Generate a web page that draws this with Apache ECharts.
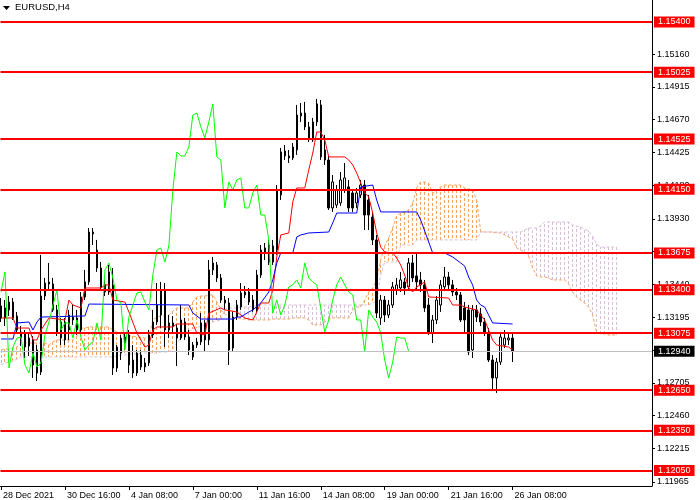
<!DOCTYPE html>
<html><head><meta charset="utf-8">
<script src="https://cdn.jsdelivr.net/npm/echarts@6/dist/echarts.min.js"></script>
<style>html,body{margin:0;padding:0;background:#fff}#c{width:700px;height:500px}</style>
</head><body><div id="c"></div>
<script>
// ---- data ----
const timeTicks = [0,16,32,48,64,80,96,112,128];
const timeLabels = ['28 Dec 2021','30 Dec 16:00','4 Jan 08:00','7 Jan 00:00','11 Jan 16:00','14 Jan 08:00','19 Jan 00:00','21 Jan 16:00','26 Jan 08:00'];
const priceTicks = [1.11965,1.12215,1.12460,1.12705,1.12950,1.13195,1.13440,1.13685,1.13930,1.14180,1.14425,1.14670,1.14915,1.15160];
const levels = [1.15400,1.15025,1.14525,1.14150,1.13675,1.13400,1.13075,1.12650,1.12350,1.12050];
// [open, close, low, high]
const ohlc = [
[1.13279,1.13189,1.13159,1.13338],[1.13189,1.13264,1.13129,1.13323],[1.13249,1.13308,1.13204,1.13353],[1.13308,1.13189,1.13174,1.13338],
[1.13204,1.13099,1.13069,1.13234],[1.13039,1.13084,1.12980,1.13129],[1.13069,1.12972,1.12890,1.13099],[1.12980,1.13039,1.12905,1.13077],
[1.13025,1.12838,1.12741,1.13054],[1.12950,1.12778,1.12718,1.12987],[1.12786,1.13353,1.12763,1.13660],[1.13353,1.13450,1.13323,1.13488],
[1.13443,1.13458,1.13398,1.13600],[1.13443,1.13249,1.13234,1.13488],[1.13249,1.13077,1.13054,1.13286],[1.13039,1.13159,1.12987,1.13189],
[1.13159,1.13025,1.12987,1.13189],[1.13099,1.13211,1.13025,1.13249],[1.13174,1.13196,1.13137,1.13286],[1.13189,1.13099,1.13062,1.13249],
[1.13099,1.13346,1.13077,1.13383],[1.13346,1.13458,1.13323,1.13548],[1.13458,1.13831,1.13436,1.13861],[1.13831,1.13816,1.13734,1.13861],
[1.13697,1.13562,1.13533,1.13772],[1.13562,1.13421,1.13398,1.13607],[1.13436,1.13383,1.13353,1.13473],[1.13383,1.13533,1.13361,1.13585],
[1.13436,1.12815,1.12763,1.13562],[1.12815,1.12972,1.12786,1.12987],[1.12927,1.13039,1.12875,1.13062],[1.13002,1.13047,1.12950,1.13077],
[1.13062,1.12838,1.12778,1.13099],[1.12875,1.12778,1.12741,1.12987],[1.12778,1.12927,1.12756,1.12950],[1.12912,1.12823,1.12800,1.12950],
[1.12823,1.12853,1.12786,1.12890],[1.12853,1.13062,1.12830,1.13099],[1.13062,1.13159,1.13039,1.13249],[1.13159,1.13286,1.13137,1.13450],
[1.13211,1.13398,1.13114,1.13458],[1.13398,1.13099,1.12972,1.13450],[1.13099,1.13152,1.13039,1.13211],[1.13129,1.13152,1.13084,1.13204],
[1.13114,1.13039,1.12830,1.13137],[1.13039,1.13174,1.13025,1.13286],[1.13159,1.13047,1.13025,1.13189],[1.13047,1.12950,1.12912,1.13099],
[1.12897,1.12987,1.12875,1.13010],[1.12987,1.13010,1.12965,1.13039],[1.13010,1.13152,1.12987,1.13226],[1.13152,1.13025,1.12935,1.13174],
[1.13025,1.13548,1.12987,1.13622],[1.13548,1.13600,1.13510,1.13645],[1.13585,1.13488,1.13458,1.13607],[1.13488,1.13323,1.13301,1.13518],
[1.13323,1.13301,1.13249,1.13353],[1.13301,1.12950,1.12838,1.13338],[1.12965,1.13196,1.12935,1.13234],[1.13196,1.13286,1.13174,1.13323],
[1.13271,1.13376,1.13249,1.13450],[1.13361,1.13383,1.13338,1.13428],[1.13383,1.13308,1.13286,1.13413],[1.13323,1.13249,1.13234,1.13361],
[1.13249,1.13510,1.13234,1.13548],[1.13510,1.13697,1.13488,1.13734],[1.13682,1.13712,1.13622,1.13749],[1.13734,1.13607,1.13585,1.13772],
[1.13607,1.13727,1.13585,1.13772],[1.13697,1.14145,1.13660,1.14182],[1.14108,1.14429,1.14070,1.14459],[1.14436,1.14399,1.14369,1.14481],
[1.14384,1.14399,1.14347,1.14444],[1.14384,1.14466,1.14369,1.14496],[1.14444,1.14705,1.14407,1.14780],[1.14698,1.14720,1.14653,1.14795],
[1.14720,1.14616,1.14593,1.14803],[1.14616,1.14534,1.14504,1.14653],[1.14519,1.14653,1.14504,1.14683],[1.14653,1.14788,1.14623,1.14825],
[1.14780,1.14392,1.14369,1.14817],[1.14444,1.14369,1.14332,1.14556],[1.14369,1.14011,1.13996,1.14407],[1.14011,1.14205,1.13981,1.14257],
[1.14033,1.14145,1.14011,1.14182],[1.14048,1.14220,1.14026,1.14280],[1.14145,1.14235,1.14123,1.14347],[1.14168,1.14011,1.13981,1.14220],
[1.14123,1.14011,1.13981,1.14145],[1.14048,1.14123,1.14011,1.14160],[1.14108,1.14182,1.14085,1.14220],[1.14182,1.13958,1.13846,1.14220],
[1.14070,1.13958,1.13846,1.14108],[1.13943,1.13772,1.13734,1.13981],[1.13772,1.13226,1.13189,1.13809],[1.13189,1.13323,1.13137,1.13361],
[1.13323,1.13211,1.13159,1.13353],[1.13211,1.13286,1.13189,1.13323],[1.13286,1.13421,1.13264,1.13458],[1.13398,1.13436,1.13361,1.13488],
[1.13413,1.13473,1.13383,1.13533],[1.13458,1.13413,1.13361,1.13488],[1.13421,1.13600,1.13398,1.13637],[1.13600,1.13488,1.13458,1.13660],
[1.13503,1.13458,1.13398,1.13675],[1.13473,1.13436,1.13383,1.13533],[1.13436,1.13264,1.13234,1.13473],[1.13286,1.13084,1.13062,1.13338],
[1.13077,1.13174,1.13002,1.13211],[1.13174,1.13323,1.13144,1.13353],[1.13286,1.13436,1.13234,1.13473],[1.13421,1.13495,1.13398,1.13570],
[1.13495,1.13436,1.13398,1.13533],[1.13436,1.13383,1.13353,1.13473],[1.13383,1.13361,1.13323,1.13413],[1.13361,1.13174,1.13159,1.13383],
[1.13264,1.13174,1.13084,1.13308],[1.13249,1.12935,1.12912,1.13286],[1.12950,1.13249,1.12890,1.13286],[1.13249,1.13196,1.13159,1.13286],
[1.13219,1.13159,1.13129,1.13264],[1.13159,1.13077,1.13054,1.13189],[1.13077,1.12875,1.12860,1.13114],[1.12875,1.12741,1.12644,1.12912],
[1.12741,1.12860,1.12629,1.12890],[1.12860,1.13047,1.12838,1.13077],[1.12987,1.13039,1.12965,1.13099],[1.13025,1.13039,1.12987,1.13084],
[1.13039,1.12940,1.12860,1.13077]
];
// Tenkan-sen vertices [bar, price]
const tenkan = [[0,1.13189],[3,1.13189],[4,1.13114],[7,1.13114],[8,1.13025],[9,1.13025],[10,1.13099],[12,1.13189],[16,1.13174],[17,1.13323],[18,1.13286],[20,1.13264],[21,1.13413],[25,1.13413],[26,1.13436],[27,1.13436],[28,1.13323],[31,1.13308],[32,1.13234],[34,1.13077],[36,1.12972],[37,1.12987],[38,1.13099],[39,1.13122],[43,1.13122],[44,1.13144],[48,1.13144],[49,1.13077],[51,1.13062],[52,1.13226],[55,1.13264],[56,1.13249],[59,1.13234],[61,1.13189],[63,1.13174],[64,1.13234],[65,1.13301],[67,1.13301],[68,1.13398],[69,1.13645],[70,1.13809],[72,1.13824],[73,1.14055],[74,1.14160],[76,1.14160],[77,1.14295],[78,1.14421],[79,1.14578],[80,1.14578],[81,1.14519],[82,1.14392],[86,1.14392],[87,1.14369],[88,1.14332],[89,1.14272],[90,1.14197],[91,1.14123],[92,1.14093],[93,1.13973],[94,1.13824],[95,1.13719],[96,1.13682],[98,1.13675],[99,1.13637],[100,1.13585],[101,1.13510],[102,1.13413],[103,1.13383],[104,1.13421],[106,1.13458],[107,1.13346],[112,1.13338],[113,1.13286],[115,1.13286],[116,1.13271],[117,1.13264],[119,1.13249],[120,1.13211],[121,1.13174],[122,1.13099],[123,1.13025],[124,1.12987],[127,1.12972],[128,1.12950]];
// Kijun-sen vertices [bar, price]
const kijun = [[0,1.13032],[3,1.13032],[4,1.13152],[7,1.13159],[8,1.13099],[9,1.13159],[10,1.13196],[21,1.13204],[22,1.13293],[47,1.13286],[48,1.13226],[50,1.13181],[58,1.13181],[59,1.13196],[60,1.13196],[62,1.13234],[63,1.13249],[65,1.13301],[67,1.13383],[68,1.13473],[69,1.13600],[70,1.13675],[73,1.13675],[74,1.13794],[75,1.13809],[77,1.13824],[82,1.13831],[83,1.13899],[84,1.13973],[89,1.13973],[90,1.14168],[93,1.14182],[94,1.14070],[95,1.13981],[104,1.13981],[105,1.13921],[108,1.13675],[111,1.13675],[113,1.13645],[115,1.13600],[116,1.13577],[117,1.13495],[118,1.13436],[119,1.13323],[120,1.13286],[121,1.13271],[122,1.13211],[123,1.13152],[128,1.13144]];
// Senkou span A / B, one value per bar (bars 0..154)
const spanA = [1.12950,1.12957,1.12957,1.12965,1.12972,1.13002,1.13002,1.13002,1.13002,1.13002,1.13002,1.13002,1.12987,1.13010,1.13025,1.13025,1.13025,1.13025,1.13025,1.13054,
1.13114,1.13114,1.13122,1.13122,1.13122,1.13122,1.13122,1.13122,1.13099,1.13084,1.13069,1.13062,1.13054,1.13054,1.13047,1.13047,1.13039,1.13047,1.13174,1.13196,
1.13204,1.13204,1.13211,1.13241,1.13264,1.13264,1.13264,1.13264,1.13308,1.13346,1.13353,1.13353,1.13361,1.13361,1.13308,1.13249,1.13219,1.13204,1.13189,1.13189,
1.13181,1.13181,1.13174,1.13174,1.13174,1.13174,1.13174,1.13174,1.13181,1.13181,1.13181,1.13181,1.13181,1.13189,1.13189,1.13189,1.13189,1.13174,1.13137,1.13137,
1.13137,1.13159,1.13181,1.13189,1.13189,1.13189,1.13189,1.13189,1.13249,1.13271,1.13271,1.13323,1.13383,1.13413,1.13473,1.13622,1.13727,1.13787,1.13861,1.13951,
1.13973,1.13981,1.13996,1.14048,1.14160,1.14205,1.14205,1.14197,1.14123,1.14138,1.14168,1.14182,1.14182,1.14182,1.14182,1.14182,1.14160,1.14153,1.14145,1.14070,
1.13839,1.13831,1.13831,1.13831,1.13824,1.13824,1.13809,1.13794,1.13779,1.13712,1.13697,1.13682,1.13652,1.13562,1.13503,1.13495,1.13495,1.13488,1.13473,1.13473,
1.13473,1.13473,1.13443,1.13383,1.13346,1.13323,1.13301,1.13271,1.13211,1.13084,1.13069,1.13069,1.13062,1.13062,1.13062];
const spanB = [1.12838,1.12853,1.12860,1.12868,1.12882,1.12898,1.12898,1.12898,1.12898,1.12898,1.12898,1.12898,1.12898,1.12898,1.12898,1.12898,1.12898,1.12898,1.12898,1.12898,
1.12898,1.12898,1.12898,1.12898,1.12898,1.12898,1.12898,1.12898,1.12898,1.12905,1.12912,1.12912,1.12920,1.12920,1.12920,1.12927,1.12927,1.12927,1.12927,1.12927,
1.12935,1.12935,1.12935,1.12957,1.13002,1.13039,1.13084,1.13092,1.13107,1.13114,1.13129,1.13137,1.13144,1.13159,1.13167,1.13174,1.13256,1.13264,1.13264,1.13264,
1.13271,1.13271,1.13271,1.13279,1.13279,1.13286,1.13286,1.13286,1.13286,1.13286,1.13286,1.13286,1.13286,1.13286,1.13286,1.13286,1.13286,1.13286,1.13286,1.13286,
1.13286,1.13286,1.13286,1.13286,1.13286,1.13286,1.13286,1.13286,1.13286,1.13286,1.13286,1.13286,1.13286,1.13301,1.13316,1.13510,1.13607,1.13607,1.13607,1.13607,
1.13734,1.13734,1.13734,1.13734,1.13772,1.13772,1.13772,1.13772,1.13772,1.13772,1.13772,1.13772,1.13772,1.13772,1.13772,1.13772,1.13772,1.13772,1.13772,1.13772,
1.13831,1.13831,1.13831,1.13831,1.13831,1.13831,1.13831,1.13831,1.13831,1.13831,1.13831,1.13846,1.13861,1.13861,1.13861,1.13876,1.13906,1.13906,1.13906,1.13906,
1.13906,1.13906,1.13906,1.13884,1.13876,1.13869,1.13854,1.13839,1.13802,1.13742,1.13719,1.13719,1.13719,1.13719,1.13719];
const chikouShift = 26;

// ---- chart ----
const FONT = 'Liberation Sans, Arial, sans-serif';
const closes = ohlc.map(d => d[1]);
const lastClose = closes[closes.length - 1];
const candleData = ohlc.map((d, i) => [i, d[0], d[1], d[2], d[3]]);
const chikouData = closes.slice(chikouShift).map((c, k) => [k, c]);
const cloudData = spanA.map((a, i) => [i, a, spanB[i]]);
const spanAData = spanA.map((a, i) => [i, a]);
const spanBData = spanB.map((b, i) => [i, b]);

const chart = echarts.init(document.getElementById('c'), null, {renderer: 'canvas'});
const lineBase = {type: 'line', symbol: 'none', showSymbol: false, animation: false, silent: true, clip: true};

chart.setOption({
  backgroundColor: '#ffffff',
  animation: false,
  textStyle: {fontFamily: FONT},
  grid: {left: 0, right: 48, top: 0, bottom: 14, containLabel: false},
  graphic: [
    {type: 'polygon', shape: {points: [[3, 6], [10, 6], [6.5, 10]]}, style: {fill: '#000'}},
    {type: 'text', left: 15, top: 2, style: {text: 'EURUSD,H4', font: '9.5px ' + FONT, fill: '#000'}}
  ],
  xAxis: {
    type: 'value', min: -0.125, max: 162.875,
    splitLine: {show: false},
    axisLine: {onZero: false, lineStyle: {color: '#000', width: 1}},
    axisTick: {show: true, length: 4, lineStyle: {color: '#000'}, customValues: timeTicks},
    axisLabel: {
      customValues: timeTicks, align: 'left', margin: 5, padding: [0, 0, 0, 2],
      fontSize: 9, color: '#000', fontFamily: FONT,
      formatter: v => timeLabels[timeTicks.indexOf(v)] || ''
    }
  },
  yAxis: {
    type: 'value', position: 'right', min: 1.11934, max: 1.15564, scale: true,
    splitLine: {show: false},
    axisLine: {show: true, onZero: false, lineStyle: {color: '#000', width: 1}},
    axisTick: {show: true, length: 3, lineStyle: {color: '#000'}, customValues: priceTicks},
    axisLabel: {customValues: priceTicks, margin: 5, fontSize: 9, color: '#000', fontFamily: FONT,
      formatter: v => v.toFixed(5)}
  },
  series: [
    {
      type: 'custom', z: 1, silent: true, animation: false, clip: true,
      data: cloudData, encode: {x: 0, y: [1, 2]},
      renderItem: (params, api) => {
        const i = api.value(0), a = api.value(1), b = api.value(2);
        const p1 = api.coord([i, a]), p2 = api.coord([i, b]);
        const x = Math.floor(p1[0]) + 0.5;
        return {type: 'line', shape: {x1: x, y1: p1[1], x2: x, y2: p2[1]},
          style: {stroke: a >= b ? '#f4a460' : '#d8bfd8', lineWidth: 1, lineDash: [3, 2]}};
      }
    },
    Object.assign({}, lineBase, {z: 1, data: spanAData, lineStyle: {color: '#f4a460', width: 1, type: [3, 2]}}),
    Object.assign({}, lineBase, {z: 1, data: spanBData, lineStyle: {color: '#d8bfd8', width: 1, type: [3, 2]}}),
    {
      type: 'candlestick', z: 2, silent: true, animation: false, clip: true,
      data: candleData, encode: {x: 0, y: [1, 2, 3, 4]},
      barWidth: 2,
      itemStyle: {color: '#ffffff', color0: '#000000', borderColor: '#000000', borderColor0: '#000000', borderWidth: 1}
    },
    Object.assign({}, lineBase, {z: 3, data: tenkan, lineStyle: {color: '#ff0000', width: 1}}),
    Object.assign({}, lineBase, {z: 3, data: kijun, lineStyle: {color: '#0000ff', width: 1}}),
    Object.assign({}, lineBase, {z: 3, data: chikouData, lineStyle: {color: '#00ff00', width: 1}}),
    Object.assign({}, lineBase, {
      z: 5, data: [],
      markLine: {
        silent: true, animation: false, symbol: ['none', 'none'], precision: 5,
        lineStyle: {color: '#ff0000', width: 2, type: 'solid'},
        label: {show: true, position: 'end', distance: 2, backgroundColor: '#ff0000', color: '#ffffff',
          padding: [1, 4, 1, 4], fontSize: 9, fontFamily: FONT, formatter: p => Number(p.value).toFixed(5)},
        emphasis: {disabled: true},
        data: levels.map(v => ({yAxis: v})).concat([{
          yAxis: lastClose,
          lineStyle: {color: '#c0c0c0', width: 1, type: 'solid'},
          label: {backgroundColor: '#000000', color: '#ffffff'}
        }])
      }
    })
  ]
});
</script>
</body></html>
